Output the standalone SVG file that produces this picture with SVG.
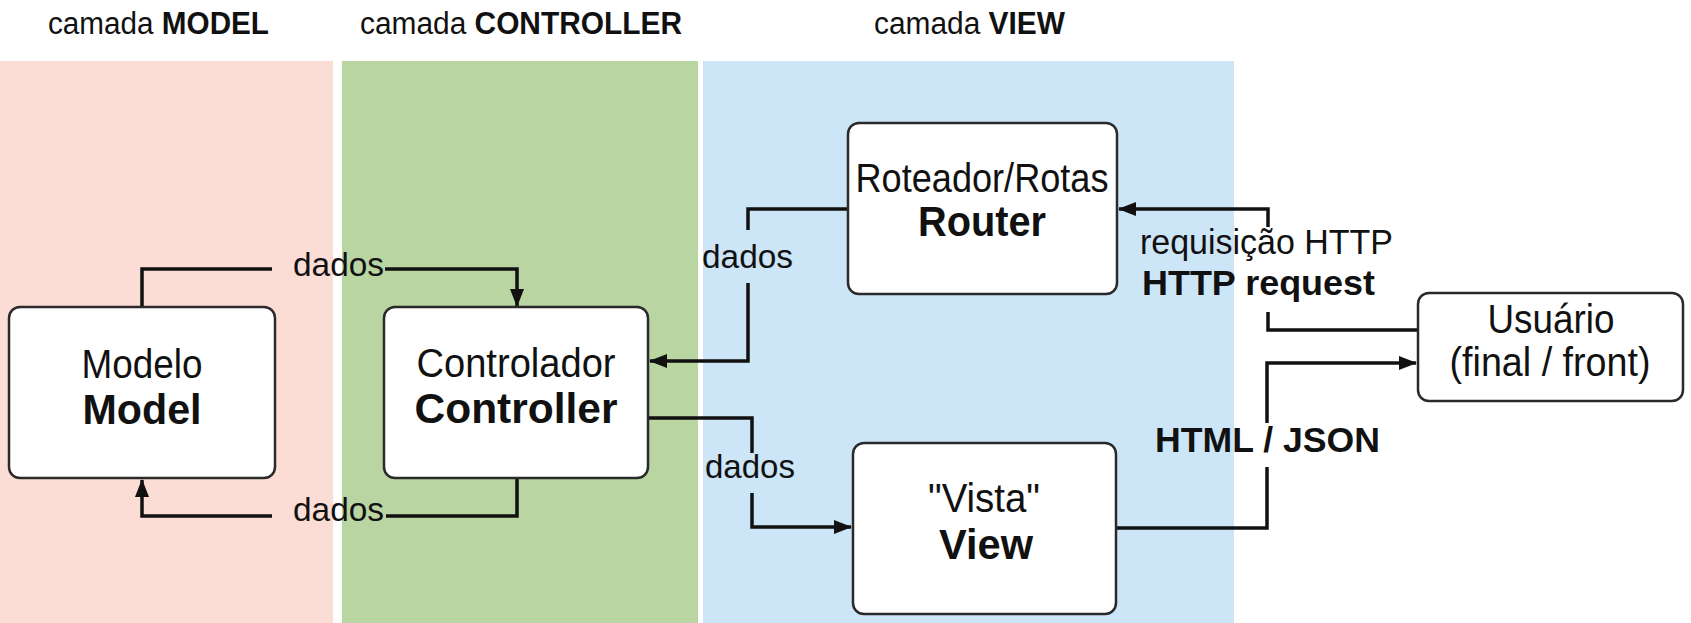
<svg xmlns="http://www.w3.org/2000/svg" width="1691" height="623" viewBox="0 0 1691 623">
<style>
text{font-family:"Liberation Sans",Arial,sans-serif;fill:#111;}
.hd{font-size:31px;}
.b{font-weight:bold;}
.reg{font-size:40px;text-anchor:middle;}
.bold{font-size:43px;font-weight:bold;text-anchor:middle;}
.lbl{font-size:33px;}
.lab{font-size:35px;}
.box{fill:#fff;stroke:#2a2a2a;stroke-width:2.5;}
.con{fill:none;stroke:#111;stroke-width:3.5;}
</style>
<defs>
<marker id="ah" markerUnits="userSpaceOnUse" markerWidth="18" markerHeight="14" refX="17" refY="7" orient="auto">
<path d="M0,0 L18,7 L0,14 z" fill="#111"/>
</marker>
</defs>
<g id="panels">
<rect x="0" y="61" width="333" height="562" fill="#fcddd6"/>
<rect x="342" y="61" width="356" height="562" fill="#b9d5a1"/>
<rect x="703" y="61" width="531" height="562" fill="#cce5f7"/>
</g>
<g id="headers">
<text class="hd" x="48" y="34" textLength="221" lengthAdjust="spacingAndGlyphs">camada <tspan class="b">MODEL</tspan></text>
<text class="hd" x="360" y="34" textLength="322" lengthAdjust="spacingAndGlyphs">camada <tspan class="b">CONTROLLER</tspan></text>
<text class="hd" x="874" y="34" textLength="191" lengthAdjust="spacingAndGlyphs">camada <tspan class="b">VIEW</tspan></text>
</g>
<g id="connectors">
<path class="con" d="M142,307 V269 H272"/>
<path class="con" d="M385,269 H517 V306" marker-end="url(#ah)"/>
<path class="con" d="M517,478 V516 H386"/>
<path class="con" d="M272,516 H142 V480" marker-end="url(#ah)"/>
<path class="con" d="M847,209 H748 V230"/>
<path class="con" d="M748,283 V361 H650" marker-end="url(#ah)"/>
<path class="con" d="M648,418 H752 V453"/>
<path class="con" d="M752,493 V527 H851" marker-end="url(#ah)"/>
<path class="con" d="M1418,330 H1268 V312"/>
<path class="con" d="M1268,227 V209 H1119" marker-end="url(#ah)"/>
<path class="con" d="M1117,528 H1267 V467"/>
<path class="con" d="M1267,423 V363 H1416" marker-end="url(#ah)"/>
<text class="lbl" x="293" y="276" textLength="91" lengthAdjust="spacingAndGlyphs">dados</text>
<text class="lbl" x="293" y="521" textLength="91" lengthAdjust="spacingAndGlyphs">dados</text>
<text class="lbl" x="702" y="268" textLength="91" lengthAdjust="spacingAndGlyphs">dados</text>
<text class="lbl" x="705" y="478" textLength="90" lengthAdjust="spacingAndGlyphs">dados</text>
<text class="lab" x="1140" y="254" textLength="253" lengthAdjust="spacingAndGlyphs">requisição HTTP</text>
<text class="lab b" x="1142" y="295" textLength="233" lengthAdjust="spacingAndGlyphs">HTTP request</text>
<text class="lab b" x="1155" y="452" textLength="225" lengthAdjust="spacingAndGlyphs">HTML / JSON</text>
</g>
<g id="model">
<rect class="box" x="9" y="307" width="266" height="171" rx="11"/>
<text class="reg" x="142" y="378" textLength="121" lengthAdjust="spacingAndGlyphs">Modelo</text>
<text class="bold" x="142" y="424" textLength="119" lengthAdjust="spacingAndGlyphs">Model</text>
</g>
<g id="controller">
<rect class="box" x="384" y="307" width="264" height="171" rx="11"/>
<text class="reg" x="516" y="377" textLength="199" lengthAdjust="spacingAndGlyphs">Controlador</text>
<text class="bold" x="516" y="423" textLength="203" lengthAdjust="spacingAndGlyphs">Controller</text>
</g>
<g id="router">
<rect class="box" x="848" y="123" width="269" height="171" rx="11"/>
<text class="reg" x="982" y="192" textLength="253" lengthAdjust="spacingAndGlyphs">Roteador/Rotas</text>
<text class="bold" x="982" y="236" textLength="128" lengthAdjust="spacingAndGlyphs">Router</text>
</g>
<g id="view">
<rect class="box" x="853" y="443" width="263" height="171" rx="11"/>
<text class="reg" x="984" y="512" textLength="112" lengthAdjust="spacingAndGlyphs">"Vista"</text>
<text class="bold" x="986" y="559" textLength="94" lengthAdjust="spacingAndGlyphs">View</text>
</g>
<g id="usuario">
<rect class="box" x="1418" y="293" width="265" height="108" rx="11"/>
<text class="reg" x="1551" y="333" textLength="127" lengthAdjust="spacingAndGlyphs">Usuário</text>
<text class="reg" x="1550" y="376" textLength="201" lengthAdjust="spacingAndGlyphs">(final / front)</text>
</g>
</svg>
